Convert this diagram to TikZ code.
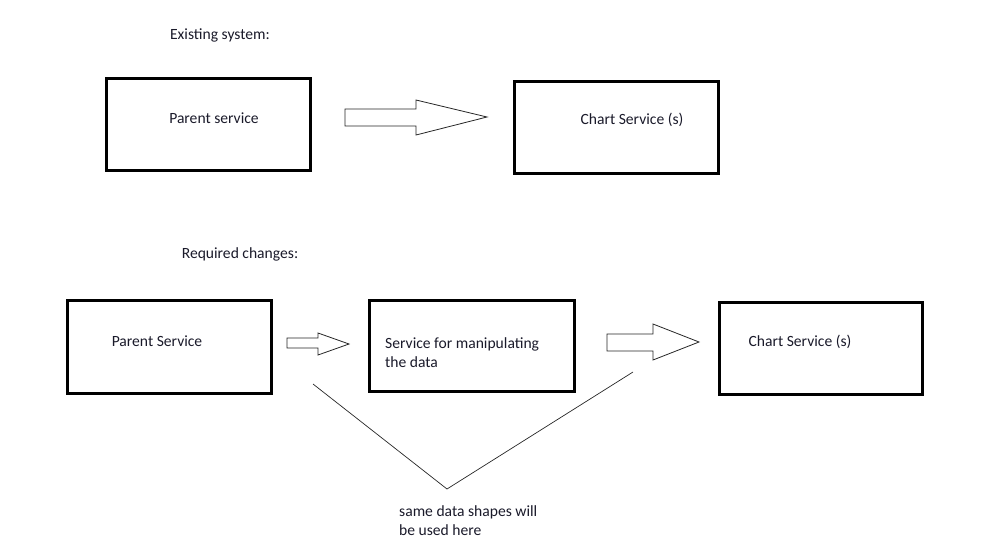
\documentclass[tikz,border=0pt]{standalone}
\usepackage{fontspec}
\setmainfont{Carlito}
\definecolor{txt}{HTML}{1A1A2A}
\begin{document}
\begin{tikzpicture}[x=1pt,y=-1pt,
  svcbox/.style={draw=black,line width=3pt,minimum width=#1,inner sep=0pt},
  lbl/.style={font=\fontsize{15.6}{19}\selectfont,text=txt,inner sep=0pt},
  blockarrow/.style={draw=black!85,line width=0.8pt,fill=white,line join=miter},
  brace/.style={draw=black!85,line width=0.7pt}]
\useasboundingbox (0,0) rectangle (998,557);
\node[lbl] (t1) at (220,35) {Existing system:};
\node[lbl] (t2) at (240,254) {Required changes:};
% top row
\node[svcbox=204pt,minimum height=92pt] (p1) at (208,124) {};
\node[lbl] (p1t) at (214,118) {Parent service};
\node[svcbox=204pt,minimum height=92pt] (c1) at (616,127) {};
\node[lbl] (c1t) at (632,120) {Chart Service (s)};
\draw[blockarrow] (345,109) -- (416,109) -- (416,100) -- (487,117) -- (416,135) -- (416,126) -- (345,126) -- cycle;
% bottom row
\node[svcbox=204pt,minimum height=93pt] (p2) at (169,346.5) {};
\node[lbl] (p2t) at (157,341) {Parent Service};
\node[svcbox=205pt,minimum height=91pt] (m2) at (471.5,345.5) {};
\node[lbl,align=left,anchor=north west] (m2t) at (385,337) {Service for manipulating\\the data};
\node[svcbox=203pt,minimum height=92pt] (c2) at (820.5,348) {};
\node[lbl] (c2t) at (800,342) {Chart Service (s)};
\draw[blockarrow] (287,338) -- (318,338) -- (318,333) -- (349,344) -- (318,355) -- (318,348) -- (287,348) -- cycle;
\draw[blockarrow] (607,334) -- (653,334) -- (653,324) -- (699,342) -- (653,360) -- (653,351) -- (607,351) -- cycle;
% brace lines
\coordinate (vl) at (313,384);
\coordinate (vb) at (447,489);
\coordinate (vr) at (633,372);
\draw[brace] (vl) -- (vb) -- (vr);
\node[lbl,align=left,anchor=north west] (note) at (399,505) {same data shapes will\\be used here};
\end{tikzpicture}
\end{document}
